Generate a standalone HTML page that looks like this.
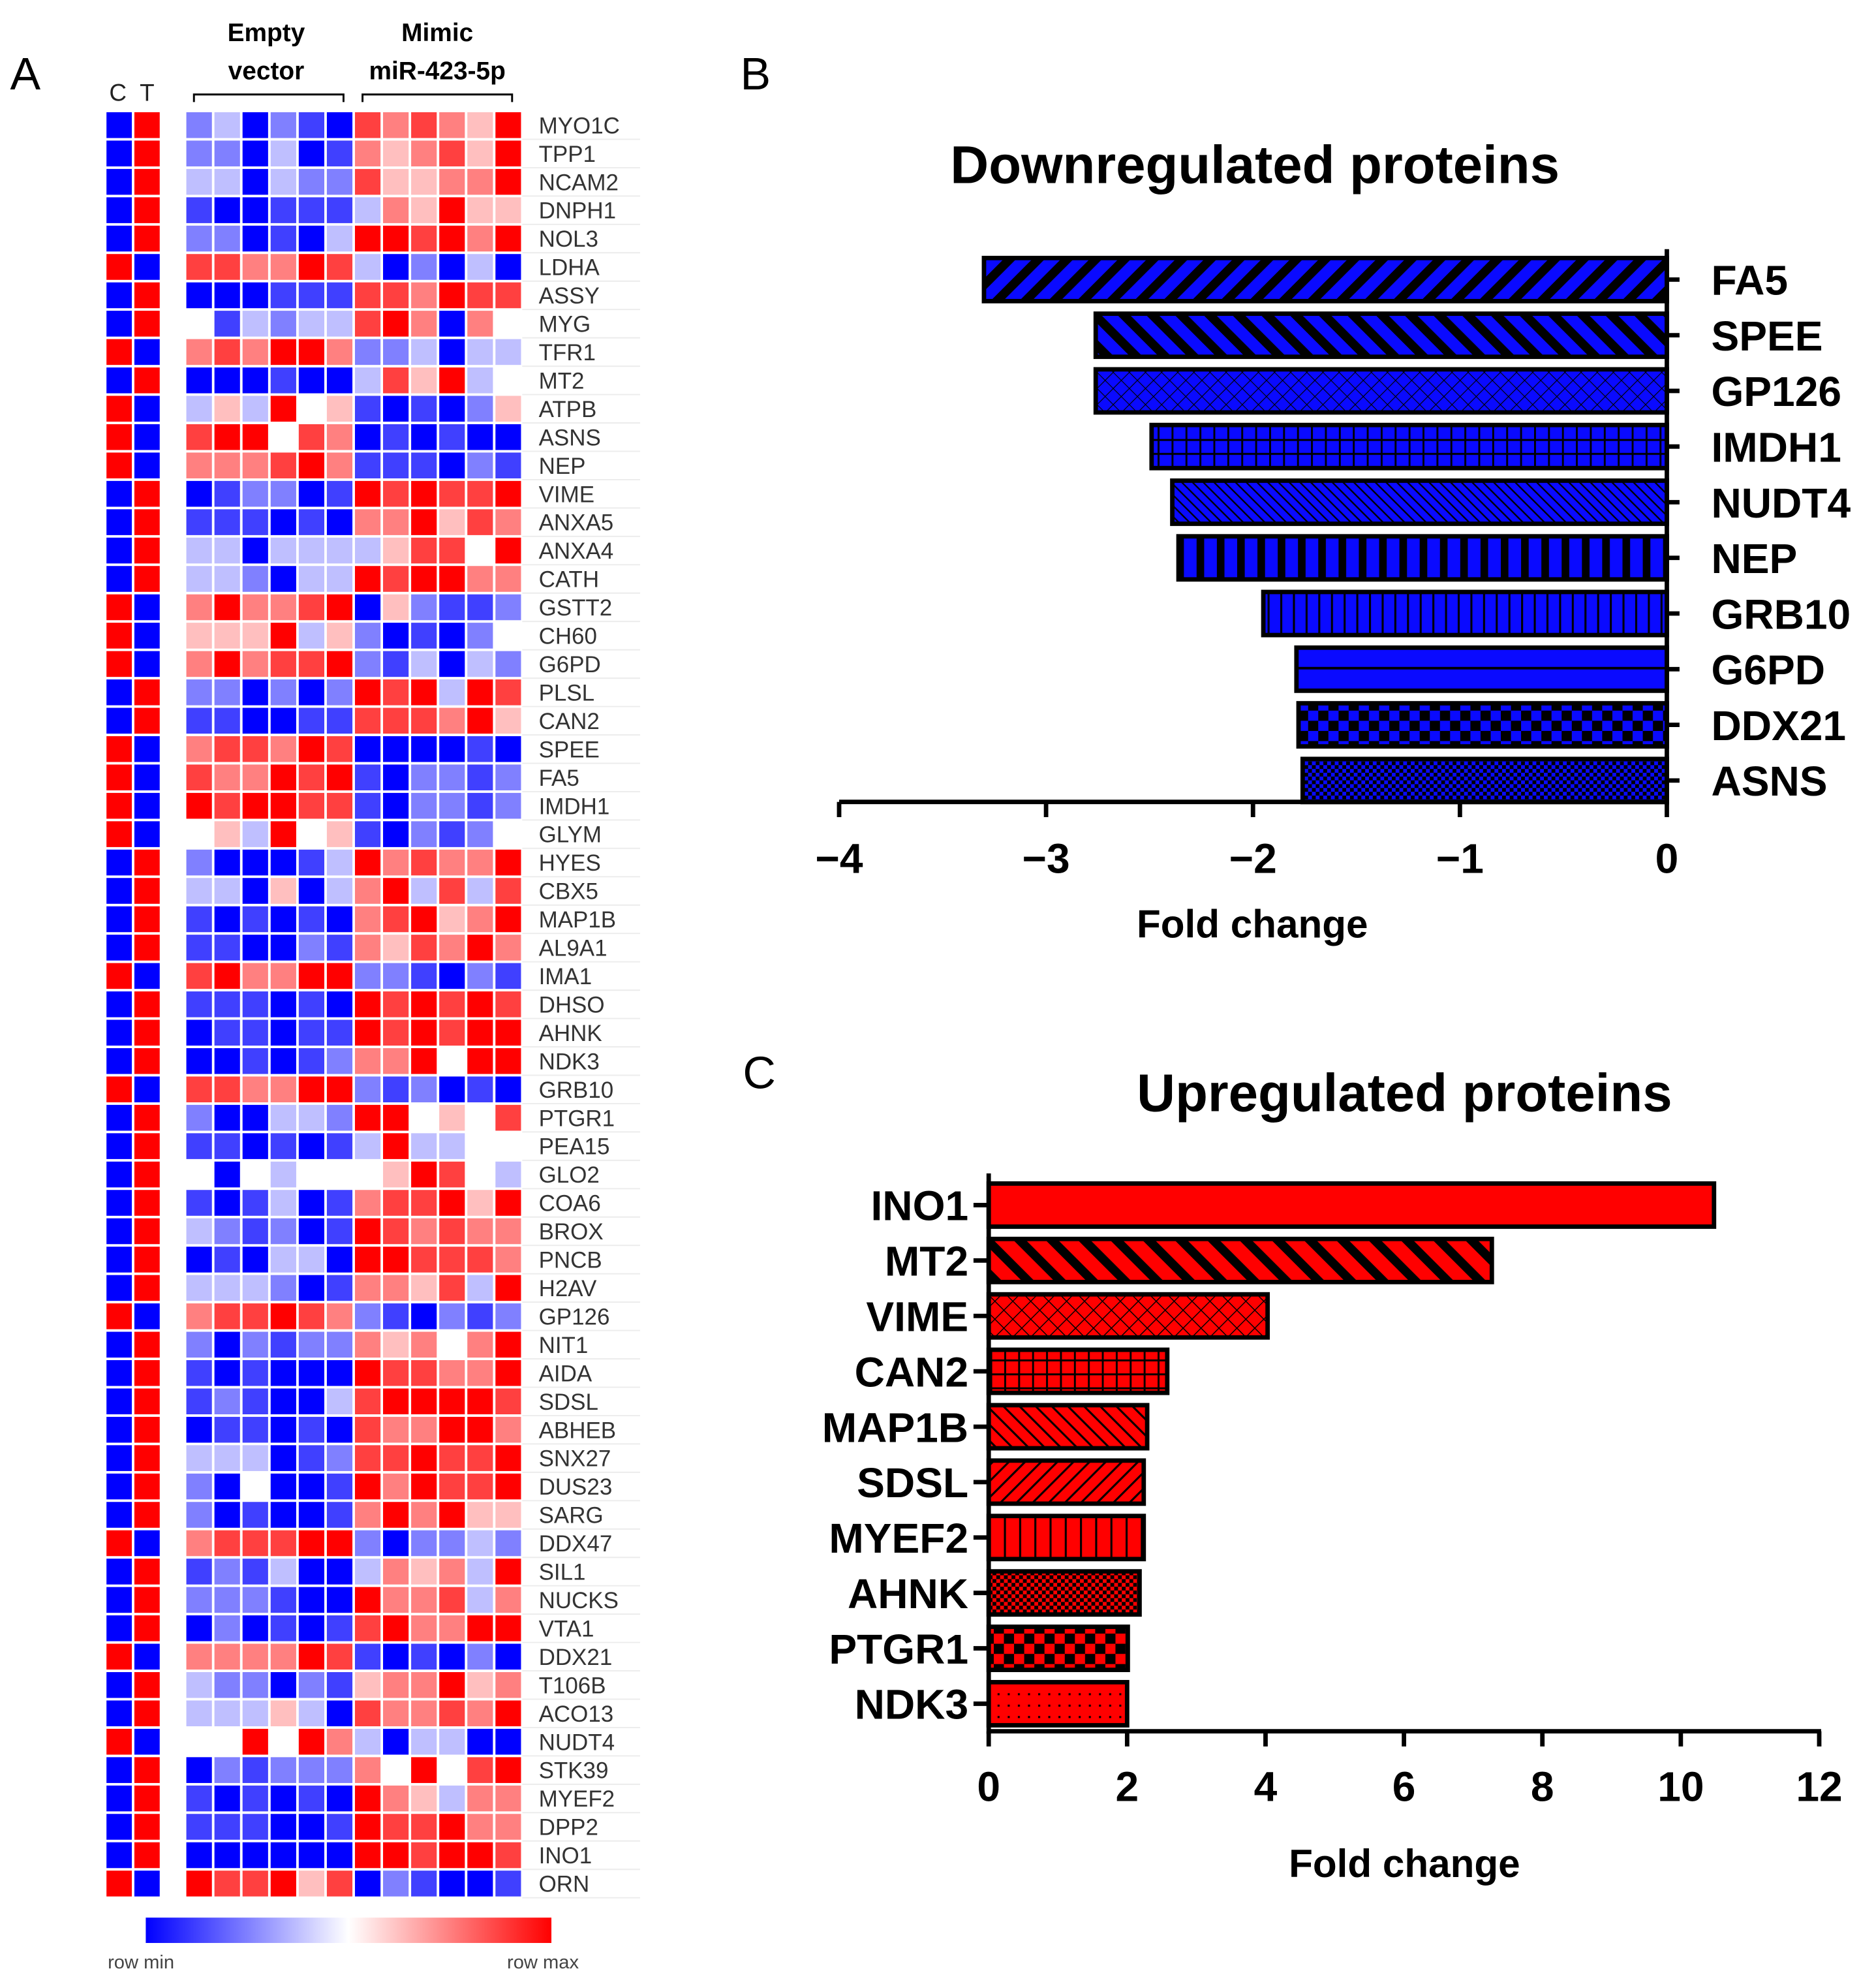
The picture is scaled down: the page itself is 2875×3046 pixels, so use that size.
<!DOCTYPE html>
<html><head><meta charset="utf-8">
<style>
html,body{margin:0;padding:0;background:#fff;}
svg{display:block;}
text{font-family:"Liberation Sans",Arial,sans-serif;}
</style></head>
<body>
<svg id="fig" width="2875" height="3046" viewBox="0 0 1480 1567" xmlns="http://www.w3.org/2000/svg">
<defs>
  <pattern id="pFwd" patternUnits="userSpaceOnUse" width="16" height="16" patternTransform="rotate(45)"><rect width="16" height="16" fill="#0a0aff"/><rect width="7" height="16" fill="#000"/></pattern>
  <pattern id="pBack" patternUnits="userSpaceOnUse" width="16" height="16" patternTransform="rotate(-45)"><rect width="16" height="16" fill="#0a0aff"/><rect width="7" height="16" fill="#000"/></pattern>
  <pattern id="pCross" patternUnits="userSpaceOnUse" width="9" height="9" patternTransform="rotate(45)"><rect width="9" height="9" fill="#0a0aff"/><path d="M0 0H9M0 0V9" stroke="#000" stroke-width="1.2"/></pattern>
  <pattern id="pGrid" patternUnits="userSpaceOnUse" width="11" height="11"><rect width="11" height="11" fill="#0a0aff"/><path d="M0 5.5H11M1 0V11" stroke="#000" stroke-width="1.5"/></pattern>
  <pattern id="pFineBack" patternUnits="userSpaceOnUse" width="6" height="6" patternTransform="rotate(-45)"><rect width="6" height="6" fill="#0a0aff"/><rect width="1.2" height="6" fill="#000"/></pattern>
  <pattern id="pVthick" patternUnits="userSpaceOnUse" width="16" height="10"><rect width="16" height="10" fill="#0a0aff"/><rect width="6" height="10" fill="#000"/></pattern>
  <pattern id="pVthin" patternUnits="userSpaceOnUse" width="10" height="10"><rect width="10" height="10" fill="#0a0aff"/><rect width="1.6" height="10" fill="#000"/></pattern>
  <pattern id="pHline" patternUnits="userSpaceOnUse" width="10" height="34"><rect width="10" height="34" fill="#0a0aff"/><rect y="15.5" width="10" height="2" fill="#000"/></pattern>
  <pattern id="pChk" patternUnits="userSpaceOnUse" width="16" height="16"><rect width="16" height="16" fill="#0a0aff"/><rect width="8" height="8" fill="#000"/><rect x="8" y="8" width="8" height="8" fill="#000"/></pattern>
  <pattern id="pFchk" patternUnits="userSpaceOnUse" width="6" height="6"><rect width="6" height="6" fill="#0a0aff"/><rect width="3" height="3" fill="#000"/><rect x="3" y="3" width="3" height="3" fill="#000"/></pattern>

  <pattern id="rSolid" patternUnits="userSpaceOnUse" width="10" height="10"><rect width="10" height="10" fill="#ff0000"/></pattern>
  <pattern id="rBack" patternUnits="userSpaceOnUse" width="18" height="18" patternTransform="rotate(-45)"><rect width="18" height="18" fill="#ff0000"/><rect width="7" height="18" fill="#000"/></pattern>
  <pattern id="rCross" patternUnits="userSpaceOnUse" width="10" height="10" patternTransform="rotate(45)"><rect width="10" height="10" fill="#ff0000"/><path d="M0 0H10M0 0V10" stroke="#000" stroke-width="1.5"/></pattern>
  <pattern id="rGrid" patternUnits="userSpaceOnUse" width="11" height="11"><rect width="11" height="11" fill="#ff0000"/><path d="M0 5.5H11M1 0V11" stroke="#000" stroke-width="1.5"/></pattern>
  <pattern id="rFineBack" patternUnits="userSpaceOnUse" width="9" height="9" patternTransform="rotate(-45)"><rect width="9" height="9" fill="#ff0000"/><rect width="1.6" height="9" fill="#000"/></pattern>
  <pattern id="rFineFwd" patternUnits="userSpaceOnUse" width="9" height="9" patternTransform="rotate(45)"><rect width="9" height="9" fill="#ff0000"/><rect width="1.6" height="9" fill="#000"/></pattern>
  <pattern id="rVthin" patternUnits="userSpaceOnUse" width="12" height="10"><rect width="12" height="10" fill="#ff0000"/><rect width="1.6" height="10" fill="#000"/></pattern>
  <pattern id="rFchk" patternUnits="userSpaceOnUse" width="6" height="6"><rect width="6" height="6" fill="#ff0000"/><rect width="3" height="3" fill="#000"/><rect x="3" y="3" width="3" height="3" fill="#000"/></pattern>
  <pattern id="rChk" patternUnits="userSpaceOnUse" width="16" height="16"><rect width="16" height="16" fill="#ff0000"/><rect width="8" height="8" fill="#000"/><rect x="8" y="8" width="8" height="8" fill="#000"/></pattern>
  <pattern id="rDots" patternUnits="userSpaceOnUse" width="8" height="9"><rect width="8" height="9" fill="#ff0000"/><rect x="3" y="3" width="1.6" height="1.6" fill="#000"/></pattern>

  <linearGradient id="cbar" x1="0" x2="1" y1="0" y2="0">
    <stop offset="0" stop-color="#0000ff"/><stop offset="0.5" stop-color="#ffffff"/><stop offset="1" stop-color="#ff0000"/>
  </linearGradient>
</defs>

<text x="8" y="70" font-size="36">A</text>
<text x="584" y="70" font-size="36">B</text>
<text x="586" y="858" font-size="36">C</text>

<text x="93" y="79" font-size="19" text-anchor="middle" fill="#222">C</text>
<text x="116" y="79" font-size="19" text-anchor="middle" fill="#222">T</text>
<text x="210" y="32" font-size="20" font-weight="bold" text-anchor="middle">Empty</text>
<text x="210" y="62" font-size="20" font-weight="bold" text-anchor="middle">vector</text>
<text x="345" y="32" font-size="20" font-weight="bold" text-anchor="middle">Mimic</text>
<text x="345" y="62" font-size="20" font-weight="bold" text-anchor="middle">miR-423-5p</text>
<path d="M153 80V74H271V80" fill="none" stroke="#000" stroke-width="1.5"/>
<path d="M286 80V74H404V80" fill="none" stroke="#000" stroke-width="1.5"/>

<g id="heatmap"></g>

<rect x="115" y="1512" width="320" height="20" fill="url(#cbar)"/>
<text x="85" y="1552" font-size="15" fill="#444">row min</text>
<text x="400" y="1552" font-size="15" fill="#444">row max</text>

<text x="990" y="144" font-size="42" font-weight="bold" text-anchor="middle">Downregulated proteins</text>
<g id="chartB"></g>
<text x="988" y="739" font-size="31" font-weight="bold" text-anchor="middle">Fold change</text>

<text x="1108" y="876" font-size="42" font-weight="bold" text-anchor="middle">Upregulated proteins</text>
<g id="chartC"></g>
<text x="1108" y="1480" font-size="31" font-weight="bold" text-anchor="middle">Fold change</text>
</svg>

<script>
const NS = "http://www.w3.org/2000/svg";
const heatGenes = ["MYO1C","TPP1","NCAM2","DNPH1","NOL3","LDHA","ASSY","MYG","TFR1","MT2","ATPB","ASNS","NEP","VIME","ANXA5","ANXA4","CATH","GSTT2","CH60","G6PD","PLSL","CAN2","SPEE","FA5","IMDH1","GLYM","HYES","CBX5","MAP1B","AL9A1","IMA1","DHSO","AHNK","NDK3","GRB10","PTGR1","PEA15","GLO2","COA6","BROX","PNCB","H2AV","GP126","NIT1","AIDA","SDSL","ABHEB","SNX27","DUS23","SARG","DDX47","SIL1","NUCKS","VTA1","DDX21","T106B","ACO13","NUDT4","STK39","MYEF2","DPP2","INO1","ORN"];
const heatValues = ["230210767658","220301656758","330322755668","100111365855","220103887868","776687302030","000111776877","413233786064","676886223033","000100375834","353845101025","788476010100","666786111021","012201878778","111010668576","330333357748","332033878866","686678052112","555835201024","686778213032","220202878387","110011777685","677687000010","766878102212","878877102212","453845102124","200013867668","330503683737","101010678568","110021657686","786688221021","111010878787","011011878788","001012668488","776688212010","200332884547","110101383344","404344458743","101301677858","321201876766","010330887776","333201665738","677876210212","202122656468","101000877668","121003788887","011010766886","333012778778","204001868778","201001686855","677788202232","121300365638","222100866736","020101786688","666687101020","322021566856","333530766768","448486303300","021222648478","101010865366","111001877866","000000887887","877857021001"];
const ctValues = heatGenes.map((g,i)=>{const s=heatValues[i];let a=0,b=0;for(let k=0;k<6;k++){a+=+s[k];b+=+s[k+6];}return a>b?[8,0]:[0,8];});

function heatColor(v){
  const t=v/8;
  if(t<0.5){const u=t/0.5;const c=Math.round(255*u);return `rgb(${c},${c},255)`;}
  const u=(t-0.5)/0.5;const c=Math.round(255*(1-u));return `rgb(255,${c},${c})`;
}
const hm=document.getElementById('heatmap');
const rowY=i=>87+i*22.37, rowH=22.37;
const colX=j=>146+j*22.17, colW=22.17;
heatGenes.forEach((g,i)=>{
  const line=document.createElementNS(NS,'line');
  line.setAttribute('x1',412);line.setAttribute('x2',505);
  line.setAttribute('y1',rowY(i)+rowH);line.setAttribute('y2',rowY(i)+rowH);
  line.setAttribute('stroke','#ececec');line.setAttribute('stroke-width','1');
  
  
  hm.appendChild(line);
  ctValues[i].forEach((v,k)=>{
    const r=document.createElementNS(NS,'rect');
    r.setAttribute('x',84+k*22);r.setAttribute('y',rowY(i)+1);
    r.setAttribute('width',20);r.setAttribute('height',rowH-2);
    r.setAttribute('fill',heatColor(v));
    
    
    hm.appendChild(r);
  });
  const s=heatValues[i];
  for(let j=0;j<12;j++){
    const r=document.createElementNS(NS,'rect');
    r.setAttribute('x',colX(j)+1);r.setAttribute('y',rowY(i)+1);
    r.setAttribute('width',colW-2);r.setAttribute('height',rowH-2);
    r.setAttribute('fill',heatColor(+s[j]));
    
    
    hm.appendChild(r);
  }
  const t=document.createElementNS(NS,'text');
  t.setAttribute('x',425);t.setAttribute('y',rowY(i)+rowH/2+6.5);
  t.setAttribute('font-size','18');t.setAttribute('fill','#333');
  t.textContent=g;
  
  
  hm.appendChild(t);
});

const downCats = ["FA5","SPEE","GP126","IMDH1","NUDT4","NEP","GRB10","G6PD","DDX21","ASNS"];
const downVals = [-3.30,-2.76,-2.76,-2.49,-2.39,-2.36,-1.95,-1.79,-1.78,-1.76];
const downTicks = [-4,-3,-2,-1,0];
const downTickLabels = ["\u22124","\u22123","\u22122","\u22121","0"];
const downFills = ["pFwd","pBack","pCross","pGrid","pFineBack","pVthick","pVthin","pHline","pChk","pFchk"];

const upCats = ["INO1","MT2","VIME","CAN2","MAP1B","SDSL","MYEF2","AHNK","PTGR1","NDK3"];
const upVals = [10.48,7.27,4.03,2.58,2.29,2.24,2.24,2.18,2.01,2.0];
const upTicks = [0,2,4,6,8,10,12];
const upTickLabels = ["0","2","4","6","8","10","12"];
const upFills = ["rSolid","rBack","rCross","rGrid","rFineBack","rFineFwd","rVthin","rFchk","rChk","rDots"];

function el(parent,tag,attrs){const e=document.createElementNS(NS,tag);for(const k in attrs)e.setAttribute(k,attrs[k]);parent.appendChild(e);return e;}

(function(){
  const g=document.getElementById('chartB');
  const xs=v=>1315+v*163.25;
  const ys=i=>220+i*43.9;
  const bh=34;
  downCats.forEach((c,i)=>{
    const x0=xs(downVals[i]);
    const r=el(g,'rect',{x:x0,y:ys(i)-bh/2,width:xs(0)-x0,height:bh,fill:'url(#'+downFills[i]+')',stroke:'#000','stroke-width':3.5});
    
    
    const tk=el(g,'line',{x1:xs(0),x2:xs(0)+10,y1:ys(i),y2:ys(i),stroke:'#000','stroke-width':3.5});
    
    
    const t=el(g,'text',{x:1350,y:ys(i)+12,'font-size':33,'font-weight':'bold'});
    t.textContent=c;
    
    
  });
  const ya=el(g,'line',{x1:xs(0),x2:xs(0),y1:196,y2:634,stroke:'#000','stroke-width':3.5});
  
  
  const xa=el(g,'line',{x1:xs(-4),x2:xs(0)+1.5,y1:632,y2:632,stroke:'#000','stroke-width':3.5});
  
  
  downTicks.forEach((v,k)=>{
    const l=el(g,'line',{x1:xs(v),x2:xs(v),y1:632,y2:644,stroke:'#000','stroke-width':3.5});
    
    
    const t=el(g,'text',{x:xs(v),y:688,'font-size':33,'font-weight':'bold','text-anchor':'middle'});
    t.textContent=downTickLabels[k];
    
    
  });
})();

(function(){
  const g=document.getElementById('chartC');
  const xs=v=>780+v*54.6;
  const ys=i=>950+i*43.7;
  const bh=34;
  upCats.forEach((c,i)=>{
    const x0=xs(0);
    const r=el(g,'rect',{x:x0,y:ys(i)-bh/2,width:xs(upVals[i])-x0,height:bh,fill:'url(#'+upFills[i]+')',stroke:'#000','stroke-width':3.5});
    
    
    const tk=el(g,'line',{x1:xs(0)-12,x2:xs(0),y1:ys(i),y2:ys(i),stroke:'#000','stroke-width':3.5});
    
    
    const t=el(g,'text',{x:764,y:ys(i)+12,'font-size':33,'font-weight':'bold','text-anchor':'end'});
    t.textContent=c;
    
    
  });
  const ya=el(g,'line',{x1:xs(0),x2:xs(0),y1:925,y2:1367,stroke:'#000','stroke-width':3.5});
  
  
  const xa=el(g,'line',{x1:xs(0)-1.5,x2:xs(12)+1.5,y1:1365,y2:1365,stroke:'#000','stroke-width':3.5});
  
  
  upTicks.forEach((v,k)=>{
    const l=el(g,'line',{x1:xs(v),x2:xs(v),y1:1365,y2:1377,stroke:'#000','stroke-width':3.5});
    
    
    const t=el(g,'text',{x:xs(v),y:1420,'font-size':33,'font-weight':'bold','text-anchor':'middle'});
    t.textContent=upTickLabels[k];
    
    
  });
})();
</script>
</body></html>
